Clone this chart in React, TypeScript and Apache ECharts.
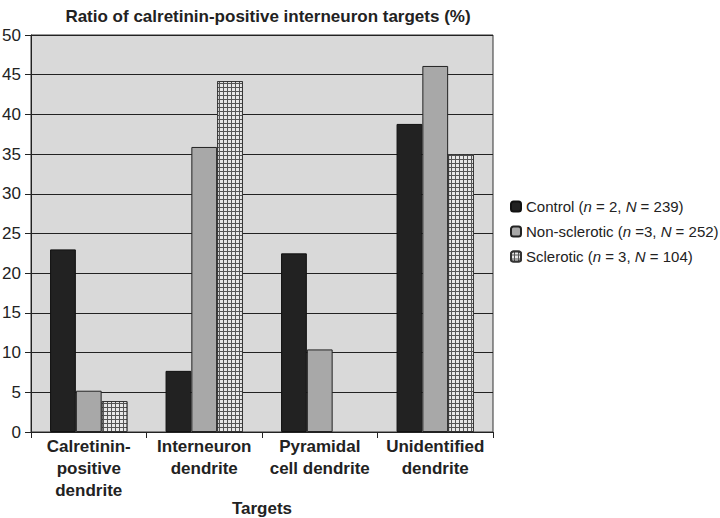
import React, { useEffect, useRef } from "react";
import * as echarts from "echarts";

const categories = [
  "Calretinin-\npositive\ndendrite",
  "Interneuron\ndendrite",
  "Pyramidal\ncell dendrite",
  "Unidentified\ndendrite",
];
const controlValues = [23.0, 7.7, 22.5, 38.8];
const nonScleroticValues = [5.2, 35.9, 10.4, 46.1];
const scleroticValues = [3.9, 44.2, 0, 35.0];
const yTicks = { min: 0, max: 50, interval: 5 };

const FONT = "'Liberation Sans', Arial, Helvetica, sans-serif";

export default function App() {
  const ref = useRef<HTMLDivElement>(null);
  useEffect(() => {
    if (!ref.current) return;
    const chart = echarts.init(ref.current, null, { renderer: "svg" });
    const rich = {
      a: { fontFamily: FONT, fontSize: 15, color: "#222" },
      i: { fontFamily: FONT, fontSize: 15, color: "#222", fontStyle: "italic" },
    };
    const legendText: Record<string, string> = {
      Control: "{a|Control (}{i|n}{a| = 2, }{i|N}{a| = 239)}",
      "Non-sclerotic": "{a|Non-sclerotic (}{i|n}{a| =3, }{i|N}{a| = 252)}",
      Sclerotic: "{a|Sclerotic (}{i|n}{a| = 3, }{i|N}{a| = 104)}",
    };
    const mk = (vals: number[]) =>
      vals.map((v) => (v === 0 ? { value: v, itemStyle: { borderWidth: 0, opacity: 0 } } : v));
    chart.setOption({
      animation: false,
      backgroundColor: "#fff",
      title: {
        text: "Ratio of calretinin-positive interneuron targets (%)",
        left: 263,
        textAlign: "center",
        top: 3,
        textStyle: { fontFamily: FONT, fontSize: 17, fontWeight: "bold", color: "#222" },
      },
      graphic: [
        {
          type: "text",
          x: 262,
          y: 508,
          style: {
            text: "Targets",
            fontFamily: FONT,
            fontSize: 17,
            fontWeight: "bold",
            fill: "#222",
            textAlign: "center",
            textVerticalAlign: "middle",
          },
        },
      ],
      legend: {
        orient: "vertical",
        left: 505,
        top: 194,
        itemWidth: 10,
        itemHeight: 10,
        itemGap: 10,
        data: ["Control", "Non-sclerotic", "Sclerotic"],
        formatter: (name: string) => legendText[name],
        textStyle: { rich, fontSize: 15 },
      },
      grid: {
        left: 31,
        right: 227,
        top: 35,
        bottom: 86,
        outerBoundsMode: "none",
        show: true,
        backgroundColor: "#d9d9d9",
        borderColor: "#333",
        borderWidth: 1,
      },
      xAxis: {
        type: "category",
        data: categories,
        axisLine: { lineStyle: { color: "#222", width: 1 } },
        axisTick: { show: true, length: 6, lineStyle: { color: "#222" } },
        axisLabel: {
          fontFamily: FONT,
          fontSize: 17,
          fontWeight: "bold",
          color: "#222",
          lineHeight: 22,
          margin: 3,
          interval: 0,
        },
      },
      yAxis: {
        type: "value",
        min: yTicks.min,
        max: yTicks.max,
        interval: yTicks.interval,
        axisLine: { show: true, lineStyle: { color: "#222", width: 1 } },
        axisTick: { show: true, length: 6, lineStyle: { color: "#222" } },
        axisLabel: { fontFamily: FONT, fontSize: 17, color: "#222", margin: 10 },
        splitLine: { show: true, lineStyle: { color: "#222", width: 1 } },
      },
      series: [
        {
          name: "Control",
          type: "bar",
          data: mk(controlValues),
          barGap: "0%",
          barCategoryGap: "33%",
          itemStyle: { color: "#222", borderColor: "#111", borderWidth: 1 },
        },
        {
          name: "Non-sclerotic",
          type: "bar",
          data: mk(nonScleroticValues),
          itemStyle: { color: "#a8a8a8", borderColor: "#222", borderWidth: 1 },
        },
        {
          name: "Sclerotic",
          type: "bar",
          data: mk(scleroticValues),
          itemStyle: {
            color: "#555",
            borderColor: "#333",
            borderWidth: 1,
            decal: {
              symbol: "rect",
              symbolSize: 1,
              dashArrayX: [[3, 1]],
              dashArrayY: [3, 1],
              color: "#e8e8e8",
              rotation: 0,
            },
          },
        },
      ],
    });
    return () => chart.dispose();
  }, []);
  return (
    <div
      ref={ref}
      style={{ position: "fixed", left: 0, top: 0, width: 720, height: 518 }}
    />
  );
}
